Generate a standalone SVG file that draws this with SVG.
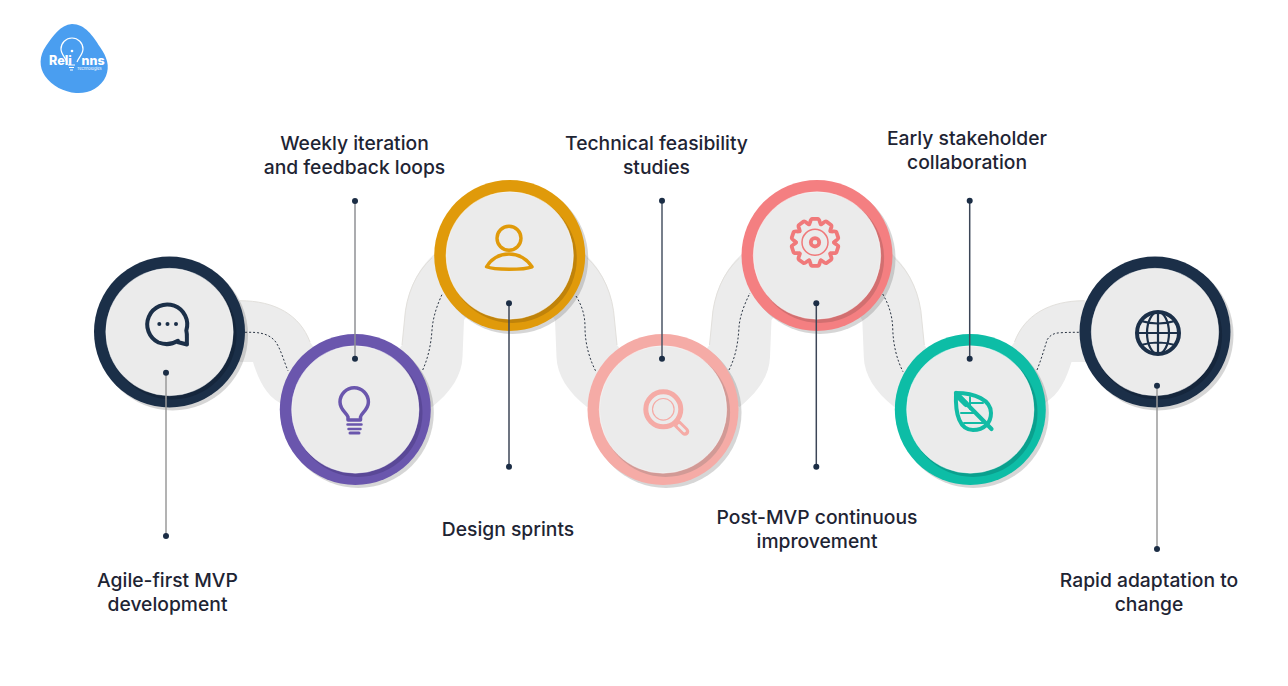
<svg xmlns="http://www.w3.org/2000/svg" xmlns:xlink="http://www.w3.org/1999/xlink" width="1288" height="686" viewBox="0 0 1288 686">
<style>
text{font-family:"Inter","Liberation Sans",sans-serif}
.label{font-size:19.300px;font-weight:500;fill:#1e2433;text-anchor:middle}
.rib{fill:#ececec}
.edge{fill:none;stroke:#e2e0dc;stroke-width:1}
.shadow{fill:#5a5a5a;opacity:.25}
.face{fill:#ebebeb;stroke:#fff;stroke-opacity:.45;stroke-width:1}
.dot{fill:#1b2d45}
.lead{stroke-width:1.500;fill:none}
.dots{fill:none;stroke:#2a3442;stroke-width:1;stroke-dasharray:2 2}
.ic{fill:none;stroke-linecap:round;stroke-linejoin:round}
</style>
<defs>
<g id="r34"><path class="rib" d="M580,250C603,268 613,295 614.500,320L617,345L640,375L587,407C568,392 557,375 556.500,357L555,320L540,300Z"/><path class="edge" d="M587,258C603,272 613,295 614.500,320L617,345"/></g>
<g id="r12"><path class="rib" d="M235,300.700L240,300.700C275,300.700 300,315 310,342L330,370L280,403C265,395 258,378 253,362L235,362Z"/><path class="edge" d="M240,300.700C275,300.700 300,315 310,342"/></g>
<path id="tooth" d="M-5.870,-18.070C-4.500,-18.600 -5,-23.500 -2.800,-23.500L2.800,-23.500C5,-23.500 4.500,-18.600 5.870,-18.070"/>
</defs>

<g id="logo">
<path d="M72,24C85,24 93,36 100,47C107,57 110,66 106,76C101,88 88,94 76,93C64,92 52,86 45,76C39,67 39,56 46,46C53,36 60,25 72,24Z" fill="#4a9ef0"/>
<path d="M67,62C65,57 61,54 61,49A11,11 0 0 1 83,49C83,54 79,57 77,62" fill="none" stroke="#fff" stroke-width="1.200"/>
<path d="M68,65H75M69,67.500H74M70,70H73" stroke="#fff" stroke-width="1.200" fill="none"/>
<circle cx="72" cy="51" r="1.300" fill="#fff"/>
<text x="49" y="65" font-size="12.500" font-weight="800" fill="#fff">Reli</text>
<text x="81.500" y="65" font-size="12.500" font-weight="800" fill="#fff">nns</text>
<text x="77" y="69.500" font-size="3.900" fill="#fff">Technologies</text>
</g>

<g id="ribbon">
<use xlink:href="#r12"/>
<use xlink:href="#r12" transform="matrix(-1 0 0 1 1324.500 0)"/>
<use xlink:href="#r34"/>
<use xlink:href="#r34" transform="matrix(-1 0 0 1 1019 0)"/>
<use xlink:href="#r34" transform="translate(307.300 0)"/>
<use xlink:href="#r34" transform="matrix(-1 0 0 1 1326.500 0)"/>
</g>

<g id="node-1">
<circle class="shadow" cx="172.500" cy="335" r="75.500"/>
<circle cx="169.500" cy="332" r="75.500" fill="#1b2f48"/>
<circle cx="172" cy="335" r="64.500" fill="#15263c"/>
<circle class="face" cx="169.500" cy="332" r="63.700"/>
<g class="ic" stroke="#1b2f48" stroke-width="4">
<path d="M178,340.800C172,344.500 165,345 158.500,342.500A20,20 0 1 1 186.300,330.500C187.500,335 186.500,339 187,344.500L177.500,342"/>
</g>
<g fill="#1b2f48"><circle cx="159.300" cy="324" r="2"/><circle cx="167.500" cy="324" r="2"/><circle cx="176" cy="324" r="2"/></g>
</g>

<g id="node-2">
<circle class="shadow" cx="358.300" cy="412.500" r="75.500"/>
<circle cx="355.300" cy="409.500" r="75.500" fill="#6a56ad"/>
<circle cx="358" cy="412.500" r="64.500" fill="#5a4897"/>
<circle class="face" cx="355.300" cy="409.500" r="63.700"/>
<g class="ic" stroke="#6a56ad" stroke-width="3.500">
<path d="M348,420V417C347,413 340,410 340,402A14.200,14.200 0 1 1 368.400,402C368.400,410 361,413 360.500,417V420Z"/>
<path d="M347.500,424.500H361.500M348.500,429H360.500" stroke-width="2.500"/>
<path d="M350,433H359" stroke-width="3"/>
</g>
</g>

<g id="node-3">
<circle class="shadow" cx="512.700" cy="258.500" r="75.500"/>
<circle cx="509.700" cy="255.500" r="75.500" fill="#e09a0a"/>
<circle cx="512.300" cy="258.500" r="64.500" fill="#c0830a"/>
<circle class="face" cx="509.700" cy="255.500" r="63.700"/>
<g class="ic" stroke="#e09a0a" stroke-width="3.400">
<circle cx="509" cy="238.300" r="12"/>
<path d="M486.500,266.800C492,258 500,254 509,254C518,254 526,258 532,266.800C524,270 494,270 486.500,266.800Z"/>
</g>
</g>

<g id="node-4">
<circle class="shadow" cx="666" cy="412.500" r="75.500"/>
<circle cx="663" cy="409.500" r="75.500" fill="#f5aba6"/>
<circle cx="665.600" cy="412.500" r="64.500" fill="#d29a96"/>
<circle class="face" cx="663" cy="409.500" r="63.700"/>
<g class="ic" stroke="#f5aba6">
<circle cx="663.300" cy="409.300" r="17.500" stroke-width="5"/>
<circle cx="663.300" cy="409.300" r="10.800" stroke-width="1.200"/>
<path d="M677.500,424L685,431.500" stroke-width="8.500"/>
<path d="M679,425.500L684.500,431" stroke="#ebebeb" stroke-width="2.800"/>
</g>
</g>

<g id="node-5">
<circle class="shadow" cx="820" cy="258.500" r="75.500"/>
<circle cx="817" cy="255.500" r="75.500" fill="#f47f81"/>
<circle cx="819.600" cy="258.500" r="64.500" fill="#d26f70"/>
<circle class="face" cx="817" cy="255.500" r="63.700"/>
<g class="ic" stroke="#f0797a" stroke-width="3.800" transform="translate(815 242.300)">
<use xlink:href="#tooth"/>
<use xlink:href="#tooth" transform="rotate(36)"/>
<use xlink:href="#tooth" transform="rotate(72)"/>
<use xlink:href="#tooth" transform="rotate(108)"/>
<use xlink:href="#tooth" transform="rotate(144)"/>
<use xlink:href="#tooth" transform="rotate(180)"/>
<use xlink:href="#tooth" transform="rotate(216)"/>
<use xlink:href="#tooth" transform="rotate(252)"/>
<use xlink:href="#tooth" transform="rotate(288)"/>
<use xlink:href="#tooth" transform="rotate(324)"/>
<circle r="13" stroke-width="1.500"/>
<circle r="4.200" stroke-width="3.800"/>
</g>
</g>

<g id="node-6">
<circle class="shadow" cx="973.300" cy="412.500" r="75.500"/>
<circle cx="970.300" cy="409.500" r="75.500" fill="#0dbda6"/>
<circle cx="973" cy="412.500" r="64.500" fill="#0aa08e"/>
<circle class="face" cx="970.300" cy="409.500" r="63.700"/>
<g class="ic" stroke="#12bba5" stroke-width="4">
<path d="M956,393C975,393 991,400 991,413C991,423 984,430 973,430C960,430 955,415 956,393Z"/>
<path d="M956,393L991.500,429" stroke-width="4.200"/>
<path d="M970,397V409M970,403H983M961,413H976M964,423H983" stroke-width="2"/>
<path d="M958,396L966,404" stroke-width="6"/>
</g>
</g>

<g id="node-7">
<circle class="shadow" cx="1158" cy="335" r="75.500"/>
<circle cx="1155" cy="332" r="75.500" fill="#1b2f48"/>
<circle cx="1157.600" cy="335" r="64.500" fill="#15263c"/>
<circle class="face" cx="1155" cy="332" r="63.700"/>
<g class="ic" stroke="#1b2f48" stroke-width="2.200" transform="translate(1158 333)">
<circle r="21" stroke-width="4"/>
<ellipse rx="11" ry="21"/>
<path d="M0,-21V21M-21,0H21M-17,-12Q0,-7 17,-12M-17,12Q0,7 17,12"/>
</g>
</g>

<g id="connectors">
<path class="dots" d="M245,332.300C258,332 268,333 275,341C281,349 284,362 288,370.700"/>
<path class="dots" d="M422.700,370C428,358 431,345 432,330C433,316 438,303 442.700,293"/>
<path class="dots" d="M576,296C582,306 585,315 585,327C585,345 590,360 596,371.700"/>
<path class="dots" d="M729,370C735,358 738,345 739,327C740,315 745,303 750,293"/>
<path class="dots" d="M882.700,294C889,305 892,315 892.700,327C893,345 897,360 903,371.700"/>
<path class="dots" d="M1037,370C1041,360 1044,350 1047,340C1050,335 1054,333 1060,332.800C1067,332.300 1073,332.300 1079,332.300"/>
<path class="lead" stroke="#9a9a9a" d="M166,372.700V536"/>
<path class="lead" stroke="#8f9094" d="M355,201V358.700"/>
<path class="lead" stroke="#3c4657" d="M509,303.300V466.700"/>
<path class="lead" stroke="#4a5564" d="M662,200.700V358.700"/>
<path class="lead" stroke="#3c4657" d="M816.300,303.300V466.700"/>
<path class="lead" stroke="#3c4657" d="M969.700,200.700V358.700"/>
<path class="lead" stroke="#9a9a9a" d="M1157,385.700V549"/>
<g class="dot">
<circle cx="166" cy="372.700" r="3"/><circle cx="166" cy="536" r="3"/>
<circle cx="355" cy="201" r="3"/><circle cx="355" cy="358.700" r="3"/>
<circle cx="509" cy="303.300" r="3"/><circle cx="509" cy="466.700" r="3"/>
<circle cx="662" cy="200.700" r="3"/><circle cx="662" cy="358.700" r="3"/>
<circle cx="816.300" cy="303.300" r="3"/><circle cx="816.300" cy="466.700" r="3"/>
<circle cx="969.700" cy="200.700" r="3"/><circle cx="969.700" cy="358.700" r="3"/>
<circle cx="1157" cy="385.700" r="3"/><circle cx="1157" cy="549" r="3"/>
</g>
</g>

<g id="labels">
<text class="label" x="354.500" y="150">Weekly iteration</text>
<text class="label" x="354.500" y="174">and feedback loops</text>
<text class="label" x="656.500" y="150">Technical feasibility</text>
<text class="label" x="656.500" y="174">studies</text>
<text class="label" x="967" y="145">Early stakeholder</text>
<text class="label" x="967" y="169">collaboration</text>
<text class="label" x="508" y="536">Design sprints</text>
<text class="label" x="817" y="524">Post-MVP continuous</text>
<text class="label" x="817" y="548">improvement</text>
<text class="label" x="167.500" y="587">Agile-first MVP</text>
<text class="label" x="167.500" y="611">development</text>
<text class="label" x="1149" y="587">Rapid adaptation to</text>
<text class="label" x="1149" y="611">change</text>
</g>
</svg>
